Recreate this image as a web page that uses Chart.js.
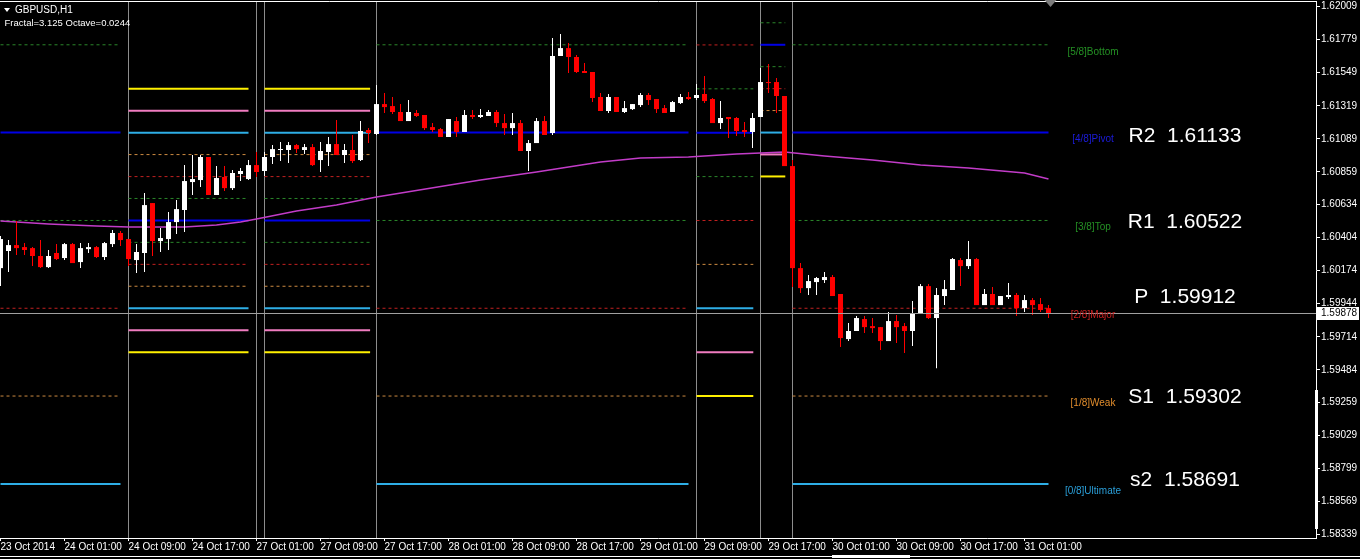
<!DOCTYPE html>
<html>
<head>
<meta charset="utf-8">
<title>GBPUSD,H1</title>
<script src="https://cdn.jsdelivr.net/npm/chart.js@4.4.0/dist/chart.umd.min.js"></script>
<style>
  html, body { margin: 0; padding: 0; background: #000; overflow: hidden; }
  #chart { display: block; }
</style>
</head>
<body>
<canvas id="chart" width="1360" height="559"></canvas>
<script>
// one label every 8 hourly bars, starting at bar 0
const timeLabels = ['23 Oct 2014', '24 Oct 01:00', '24 Oct 09:00', '24 Oct 17:00', '27 Oct 01:00',
  '27 Oct 09:00', '27 Oct 17:00', '28 Oct 01:00', '28 Oct 09:00', '28 Oct 17:00', '29 Oct 01:00',
  '29 Oct 09:00', '29 Oct 17:00', '30 Oct 01:00', '30 Oct 09:00', '30 Oct 17:00', '31 Oct 01:00'];

const priceTicks = [1.62009, 1.61779, 1.61549, 1.61319, 1.61089, 1.60859, 1.60634, 1.60404, 1.60174,
  1.59944, 1.59714, 1.59484, 1.59259, 1.59029, 1.58799, 1.58569, 1.58339];

const opens = [
  1.60191, 1.60310, 1.60351, 1.60337, 1.60330, 1.60275, 1.60198, 1.60296, 1.60261, 1.60358,
  1.60233, 1.60323, 1.60337, 1.60268, 1.60358, 1.60435, 1.60393, 1.60247, 1.60296, 1.60643,
  1.60379, 1.60393, 1.60511, 1.60595, 1.60789, 1.60803, 1.60963, 1.60699, 1.60824, 1.60747,
  1.60845, 1.60810, 1.60907, 1.60866, 1.60963, 1.61012, 1.61012, 1.61046, 1.61012, 1.61032,
  1.60942, 1.60998, 1.61053, 1.60977, 1.61012, 1.60942, 1.61151, 1.61123, 1.61331, 1.61317,
  1.61276, 1.61213, 1.61269, 1.61255, 1.61171, 1.61157, 1.61102, 1.61213, 1.61137, 1.61255,
  1.61241, 1.61248, 1.61276, 1.61199, 1.61164, 1.61199, 1.61005, 1.61060, 1.61213, 1.61130,
  1.61665, 1.61720, 1.61658, 1.61561, 1.61554, 1.61380, 1.61283, 1.61380, 1.61276, 1.61296,
  1.61324, 1.61394, 1.61366, 1.61303, 1.61276, 1.61338, 1.61380, 1.61373, 1.61401, 1.61366,
  1.61199, 1.61241, 1.61234, 1.61151, 1.61137, 1.61241, 1.61484, 1.61484, 1.61387, 1.60900,
  1.60191, 1.60052, 1.60094, 1.60108, 1.60129, 1.60011, 1.59698, 1.59754, 1.59837, 1.59788,
  1.59781, 1.59684, 1.59823, 1.59788, 1.59754, 1.59872, 1.60066, 1.59844, 1.59997, 1.60039,
  1.60247, 1.60205, 1.60254, 1.59934, 1.60011, 1.59934, 1.59990, 1.60004, 1.59913, 1.59969,
  1.59941, 1.59913
];
const highs = [
  1.60414, 1.60386, 1.60518, 1.60365, 1.60337, 1.60386, 1.60317, 1.60358, 1.60365, 1.60365,
  1.60365, 1.60365, 1.60344, 1.60372, 1.60456, 1.60449, 1.60393, 1.60358, 1.60713, 1.60643,
  1.60469, 1.60581, 1.60664, 1.60907, 1.60977, 1.60977, 1.60963, 1.60900, 1.60900, 1.60873,
  1.60886, 1.60942, 1.60998, 1.60998, 1.61046, 1.61067, 1.61067, 1.61053, 1.61053, 1.61053,
  1.61067, 1.61102, 1.61220, 1.61053, 1.61116, 1.61213, 1.61164, 1.61463, 1.61408, 1.61380,
  1.61331, 1.61359, 1.61290, 1.61255, 1.61199, 1.61164, 1.61227, 1.61241, 1.61290, 1.61290,
  1.61296, 1.61290, 1.61290, 1.61262, 1.61269, 1.61220, 1.61081, 1.61234, 1.61248, 1.61790,
  1.61818, 1.61755, 1.61672, 1.61616, 1.61554, 1.61408, 1.61401, 1.61380, 1.61352, 1.61331,
  1.61408, 1.61408, 1.61366, 1.61324, 1.61352, 1.61401, 1.61415, 1.61470, 1.61526, 1.61373,
  1.61352, 1.61241, 1.61241, 1.61206, 1.61269, 1.61581, 1.61609, 1.61512, 1.61387, 1.60942,
  1.60226, 1.60143, 1.60129, 1.60164, 1.60143, 1.60011, 1.59809, 1.59858, 1.59858, 1.59844,
  1.59781, 1.59886, 1.59865, 1.59809, 1.59962, 1.60080, 1.60080, 1.60052, 1.60108, 1.60261,
  1.60261, 1.60379, 1.60261, 1.60045, 1.60059, 1.59997, 1.60087, 1.60018, 1.60004, 1.59983,
  1.59983, 1.59934
];
const lows = [
  1.60066, 1.60164, 1.60282, 1.60282, 1.60205, 1.60191, 1.60191, 1.60247, 1.60247, 1.60226,
  1.60191, 1.60296, 1.60261, 1.60247, 1.60337, 1.60344, 1.60205, 1.60157, 1.60164, 1.60275,
  1.60303, 1.60317, 1.60428, 1.60442, 1.60699, 1.60754, 1.60699, 1.60699, 1.60727, 1.60734,
  1.60796, 1.60803, 1.60824, 1.60831, 1.60914, 1.60935, 1.60921, 1.60991, 1.60984, 1.60900,
  1.60859, 1.60900, 1.60977, 1.60921, 1.60921, 1.60935, 1.61060, 1.61116, 1.61269, 1.61262,
  1.61213, 1.61213, 1.61241, 1.61151, 1.61137, 1.61102, 1.61102, 1.61102, 1.61137, 1.61227,
  1.61234, 1.61248, 1.61171, 1.61116, 1.61116, 1.61005, 1.60866, 1.61060, 1.61116, 1.61116,
  1.61665, 1.61547, 1.61547, 1.61547, 1.61345, 1.61283, 1.61269, 1.61276, 1.61269, 1.61290,
  1.61310, 1.61324, 1.61269, 1.61269, 1.61276, 1.61331, 1.61359, 1.61359, 1.61338, 1.61199,
  1.61157, 1.61095, 1.61109, 1.61102, 1.61025, 1.61241, 1.61408, 1.61269, 1.60900, 1.60059,
  1.60018, 1.60004, 1.60004, 1.60087, 1.59997, 1.59642, 1.59684, 1.59754, 1.59740, 1.59740,
  1.59622, 1.59684, 1.59670, 1.59601, 1.59649, 1.59872, 1.59837, 1.59496, 1.59934, 1.60039,
  1.60066, 1.60184, 1.59934, 1.59934, 1.59934, 1.59934, 1.59976, 1.59858, 1.59886, 1.59865,
  1.59886, 1.59844
];
const closes = [
  1.60393, 1.60351, 1.60330, 1.60317, 1.60275, 1.60198, 1.60275, 1.60254, 1.60358, 1.60226,
  1.60330, 1.60337, 1.60268, 1.60365, 1.60435, 1.60386, 1.60254, 1.60303, 1.60629, 1.60379,
  1.60400, 1.60511, 1.60601, 1.60796, 1.60810, 1.60963, 1.60699, 1.60817, 1.60747, 1.60852,
  1.60866, 1.60907, 1.60859, 1.60963, 1.61018, 1.61018, 1.61046, 1.61018, 1.61032, 1.60907,
  1.61005, 1.61053, 1.60977, 1.61012, 1.60935, 1.61144, 1.61130, 1.61331, 1.61310, 1.61276,
  1.61213, 1.61276, 1.61248, 1.61164, 1.61151, 1.61102, 1.61227, 1.61137, 1.61255, 1.61241,
  1.61255, 1.61276, 1.61199, 1.61164, 1.61199, 1.61005, 1.61060, 1.61213, 1.61116, 1.61665,
  1.61720, 1.61658, 1.61554, 1.61547, 1.61373, 1.61283, 1.61380, 1.61276, 1.61303, 1.61331,
  1.61394, 1.61359, 1.61296, 1.61269, 1.61345, 1.61380, 1.61366, 1.61394, 1.61352, 1.61199,
  1.61234, 1.61227, 1.61144, 1.61137, 1.61234, 1.61484, 1.61477, 1.61387, 1.60900, 1.60191,
  1.60052, 1.60101, 1.60122, 1.60129, 1.59997, 1.59705, 1.59754, 1.59844, 1.59781, 1.59774,
  1.59684, 1.59823, 1.59781, 1.59754, 1.59872, 1.60066, 1.59844, 1.60004, 1.60045, 1.60254,
  1.60205, 1.60254, 1.59934, 1.60011, 1.59934, 1.59997, 1.60004, 1.59913, 1.59969, 1.59934,
  1.59900, 1.59878
];

// moving average, read at some bars
const maBars = [0, 6, 12, 16, 23, 27, 30, 32, 37, 42, 47, 60, 67, 75, 80, 86, 92, 98, 103, 109, 115, 121, 128, 131];
const maValues = [1.60518, 1.60497, 1.60483, 1.60476, 1.60476, 1.60490, 1.60511, 1.60532, 1.60588, 1.60629,
  1.60685, 1.60803, 1.60859, 1.60928, 1.60956, 1.60963, 1.60984, 1.60998, 1.60970, 1.60942, 1.60907,
  1.60886, 1.60852, 1.60810];

// bars where a vertical separator sits
const separatorBars = [16, 32, 33, 47, 87, 95, 99];

// main murrey levels
const mainLevels = [1.61743, 1.61133, 1.60522, 1.59912, 1.59302, 1.58691];
const mainRoles = ['top', 'pivot', 'top', 'major', 'weak', 'edge'];
const mainNames = ['[5/8]Bottom', '[4/8]Pivot', '[3/8]Top', '[2/8]Major', '[1/8]Weak', '[0/8]Ultimate'];
const mainWindows = [[0, 15], [47, 86], [99, 131]];

// finer levels of the 24/27 Oct sessions
const dayLevels = [1.61437, 1.61285, 1.61132, 1.60980, 1.60827, 1.60675, 1.60522, 1.60370, 1.60217,
  1.60065, 1.59912, 1.59760, 1.59607];
const dayRoles = ['ext', 'outer', 'edge', 'weak', 'major', 'top', 'pivot', 'top', 'major', 'weak', 'edge', 'outer', 'ext'];
const dayWindows = [[16, 31], [33, 46.2]];

const midLevels = [1.61742, 1.61437, 1.61132, 1.60827, 1.60522, 1.60217, 1.59912, 1.59607, 1.59302];
const midRoles = ['major', 'top', 'pivot', 'top', 'major', 'weak', 'edge', 'outer', 'ext'];
const midWindows = [[87, 94.1]];

const lateLevels = [1.61896, 1.61743, 1.61591, 1.61438, 1.61286, 1.61133, 1.60981, 1.60828];
const lateRoles = ['top', 'pivot', 'top', 'major', 'weak', 'edge', 'outer', 'ext'];
const lateWindows = [[95, 98.1]];

// pivot texts on the right
const pivotNames = ['R2', 'R1', 'P', 'S1', 's2'];
const pivotValues = [1.61133, 1.60522, 1.59912, 1.59302, 1.58691];

const levelStyle = {
  pivot: { color: '#0000e6', width: 2, dash: [], text: '#1c1cdc' },
  top:   { color: '#2a862a', width: 1, dash: [3, 3], text: '#249024' },
  major: { color: '#c22020', width: 1, dash: [3, 3], text: '#cc2222' },
  weak:  { color: '#cc8a40', width: 1, dash: [3, 3], text: '#e08c2c' },
  edge:  { color: '#2eaee6', width: 2, dash: [], text: '#2a9ed8' },
  outer: { color: '#f07cc0', width: 2, dash: [] },
  ext:   { color: '#fff000', width: 2, dash: [] }
};

const fontFamily = '"Liberation Sans", Arial, sans-serif';
Chart.defaults.font.family = fontFamily;

function levelDatasets(levels, roles, windows) {
  const out = [];
  windows.forEach(function (w) {
    levels.forEach(function (p, k) {
      const st = levelStyle[roles[k]];
      out.push({
        type: 'line',
        data: [{ x: w[0], y: p }, { x: w[1], y: p }],
        borderColor: st.color,
        borderWidth: st.width,
        borderDash: st.dash,
        pointRadius: 0,
        order: 5
      });
    });
  });
  return out;
}

const candleColors = closes.map((c, i) => c >= opens[i] ? '#ffffff' : '#ff0000');
const wickData = highs.map((h, i) => ({ x: i, y: [lows[i], h] }));
const bodyData = opens.map((o, i) => ({ x: i, y: [o, closes[i]] }));
const maData = maBars.map((b, i) => ({ x: b, y: maValues[i] }));

const datasets = []
  .concat(levelDatasets(mainLevels, mainRoles, mainWindows))
  .concat(levelDatasets(dayLevels, dayRoles, dayWindows))
  .concat(levelDatasets(midLevels, midRoles, midWindows))
  .concat(levelDatasets(lateLevels, lateRoles, lateWindows));

datasets.push({
  type: 'line', data: maData, borderColor: '#c23cc8', borderWidth: 1.5,
  pointRadius: 0, tension: 0, order: 3
});
datasets.push({
  type: 'bar', data: wickData, backgroundColor: candleColors, barThickness: 1,
  grouped: false, inflateAmount: 0, minBarLength: 1, order: 1
});
datasets.push({
  type: 'bar', data: bodyData, backgroundColor: candleColors, barThickness: 5,
  grouped: false, inflateAmount: 0, minBarLength: 1, order: 0
});

const decor = {
  id: 'decor',
  beforeDraw(chart) {
    const c = chart.ctx;
    c.save();
    c.fillStyle = '#000';
    c.fillRect(0, 0, chart.width, chart.height);
    c.restore();
  },
  beforeDatasetsDraw(chart) {
    const c = chart.ctx, a = chart.chartArea, xs = chart.scales.x;
    c.save();
    c.strokeStyle = '#8c8c8c';
    c.lineWidth = 1;
    separatorBars.forEach(function (b) {
      const px = xs.getPixelForValue(b);
      c.beginPath();
      c.moveTo(px, a.top);
      c.lineTo(px, a.bottom);
      c.stroke();
    });
    c.restore();
  },
  afterDatasetsDraw(chart) {
    const c = chart.ctx, a = chart.chartArea, xs = chart.scales.x, ys = chart.scales.y;
    const last = opens.length - 1;
    c.save();

    // current price line
    const py = Math.round(ys.getPixelForValue(closes[last])) + 0.5;
    c.strokeStyle = '#a0a0a0';
    c.lineWidth = 1;
    c.beginPath();
    c.moveTo(a.left, py);
    c.lineTo(a.right, py);
    c.stroke();

    // level names
    c.font = '10px ' + fontFamily;
    c.textAlign = 'center';
    c.textBaseline = 'middle';
    const tagX = xs.getPixelForValue(last + 5.56);
    mainLevels.forEach(function (p, k) {
      c.fillStyle = levelStyle[mainRoles[k]].text;
      c.fillText(mainNames[k], tagX, ys.getPixelForValue(p) + 7);
    });

    // pivot values
    const pivotShift = [4, 2, -11, 1, -4];
    const pivX = xs.getPixelForValue(last + 17.06);
    c.font = '21px ' + fontFamily;
    c.fillStyle = '#ffffff';
    pivotValues.forEach(function (p, k) {
      c.fillText(pivotNames[k] + '  ' + p.toFixed(5), pivX, ys.getPixelForValue(p) + pivotShift[k]);
    });
    c.restore();
  },
  afterDraw(chart) {
    const c = chart.ctx, a = chart.chartArea, xs = chart.scales.x, ys = chart.scales.y;
    const last = opens.length - 1;
    c.save();

    // frame lines
    c.strokeStyle = '#ffffff';
    c.lineWidth = 1;
    c.beginPath();
    c.moveTo(0, 1.5);
    c.lineTo(a.right + 1, 1.5);
    c.moveTo(0, 556.5);
    c.lineTo(chart.width, 556.5);
    c.stroke();
    c.fillStyle = '#ffffff';
    c.fillRect(832, 555, 78, 3);
    c.fillRect(a.right - 1, 390, 3, 139);

    // chart shift marker
    const mx = xs.getPixelForValue(last + 0.25);
    c.fillStyle = '#7c7c7c';
    c.beginPath();
    c.moveTo(mx - 6, a.top - 2);
    c.lineTo(mx + 6, a.top - 2);
    c.lineTo(mx, a.top + 5);
    c.closePath();
    c.fill();

    // price box on the axis
    const py = ys.getPixelForValue(closes[last]);
    c.fillStyle = '#ffffff';
    c.fillRect(a.right + 1, Math.round(py) - 6, chart.width - a.right - 2, 13);
    c.fillStyle = '#000000';
    c.font = '10px ' + fontFamily;
    c.textAlign = 'left';
    c.textBaseline = 'middle';
    c.fillText(closes[last].toFixed(5), a.right + 5, Math.round(py) + 0.5);

    // title
    c.fillStyle = '#ffffff';
    c.beginPath();
    c.moveTo(4, 8);
    c.lineTo(10, 8);
    c.lineTo(7, 12);
    c.closePath();
    c.fill();
    c.font = '10px ' + fontFamily;
    c.fillText('GBPUSD,H1', 15, 10);
    c.font = '9.5px ' + fontFamily;
    c.fillText('Fractal=3.125 Octave=0.0244', 4.5, 23);
    c.restore();
  }
};

const ctx = document.getElementById('chart').getContext('2d');
const chart = new Chart(ctx, {
  type: 'bar',
  data: { datasets: datasets },
  options: {
    responsive: false,
    devicePixelRatio: 1,
    animation: false,
    events: [],
    layout: { padding: { top: 2, left: 0, right: 0, bottom: 0 } },
    plugins: { legend: { display: false }, tooltip: { enabled: false } },
    scales: {
      x: {
        type: 'linear',
        offset: false,
        min: -0.0625,
        max: -0.0625 + 1316 / 8,
        afterBuildTicks: s => { s.ticks = timeLabels.map((t, i) => ({ value: i * 8 })); },
        afterFit: s => { s.height = 21; s.paddingLeft = 0; s.paddingRight = 0; },
        ticks: {
          autoSkip: false, maxRotation: 0, minRotation: 0, align: 'start',
          color: '#ffffff', padding: 0, font: { size: 10 },
          callback: (v, i) => timeLabels[i]
        },
        grid: { offset: false, drawOnChartArea: false, drawTicks: true, tickLength: 3, color: '#ffffff' },
        border: { display: true, color: '#ffffff' }
      },
      y: {
        type: 'linear',
        position: 'right',
        min: 1.583155,
        max: 1.620403,
        afterBuildTicks: s => { s.ticks = priceTicks.map(v => ({ value: v })); },
        afterFit: s => { s.width = 44; s.paddingTop = 0; s.paddingBottom = 0; },
        ticks: {
          autoSkip: false, color: '#ffffff', padding: 1, font: { size: 10 },
          callback: v => v.toFixed(5)
        },
        grid: { drawOnChartArea: false, drawTicks: true, tickLength: 4, color: '#ffffff' },
        border: { display: true, color: '#ffffff' }
      }
    }
  },
  plugins: [decor]
});
</script>
</body>
</html>
